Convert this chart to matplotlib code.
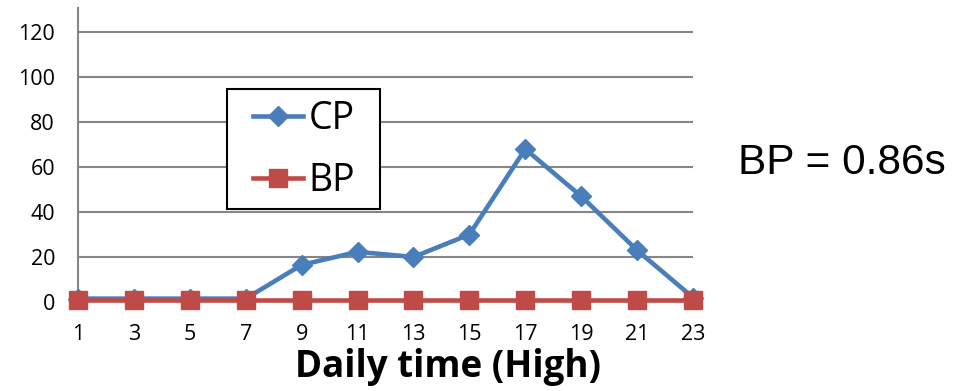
import matplotlib
matplotlib.use("Agg")
import matplotlib.pyplot as plt
from matplotlib.patches import Rectangle

hours = [1, 3, 5, 7, 9, 11, 13, 15, 17, 19, 21, 23]
cp = [1.5, 1.5, 1.5, 1.5, 16.5, 22.3, 20, 30, 68, 47, 23, 2]
bp = [0.86] * 12
yticks = [0, 20, 40, 60, 80, 100, 120]

W, H = 963, 391
fig = plt.figure(figsize=(W / 100, H / 100), dpi=100)
ax = fig.add_axes([78 / W, (H - 302) / H, (693 - 78) / W, (302 - 8) / H])

grid_c = "#868686"
ax.set_xlim(1, 23)
ax.set_ylim(0, 130.7)
ax.set_yticks(yticks)
ax.set_xticks(hours)
ax.set_xticklabels([str(h) for h in hours])
for y in yticks:
    ax.axhline(y, color=grid_c, lw=1.5, zorder=1)

ax.plot(hours, cp, color="#4A7EBB", lw=3.3, marker="D", markersize=10.5,
        label="CP", zorder=3, clip_on=False)
ax.plot(hours, bp, color="#BE4B48", lw=3.3, marker="s", markersize=13.5,
        label="BP", zorder=4, clip_on=False)

for s in ["top", "right", "bottom"]:
    ax.spines[s].set_visible(False)
ax.spines["left"].set_color(grid_c)
ax.spines["left"].set_linewidth(1.5)
ax.tick_params(axis="y", length=0, pad=16.5, labelsize=15.5)
ax.tick_params(axis="x", length=0, pad=16, labelsize=15.5)
for lab in ax.get_xticklabels() + ax.get_yticklabels():
    lab.set_fontfamily("Open Sans")

fig.text(448 / W, 1 - 377 / H, "Daily time (High)", fontsize=26.5, fontweight="bold",
         fontfamily="Open Sans", ha="center", va="baseline")

# legend frame
ax.add_patch(Rectangle((227 / W, 1 - 209 / H), (380 - 227) / W, (209 - 89) / H,
                       transform=fig.transFigure, facecolor="white",
                       edgecolor="black", lw=1.5, zorder=5, clip_on=False))
leg = ax.legend(loc="center", bbox_to_anchor=(304 / W, 1 - 150 / H),
                bbox_transform=fig.transFigure, frameon=False,
                prop={"family": "Open Sans", "size": 27}, handlelength=1.35,
                handletextpad=0.14, labelspacing=0.66, borderpad=0.2)
leg.set_zorder(6)

fig.text(738 / W, 1 - 163 / H, "BP = 0.86s", fontsize=30.5, fontfamily="Liberation Sans",
         va="center", ha="left")

fig.savefig("out.png", dpi=100)
